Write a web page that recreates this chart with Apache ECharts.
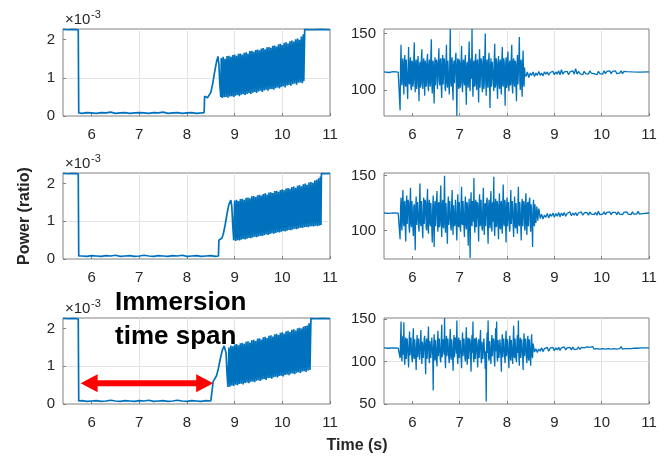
<!DOCTYPE html>
<html>
<head>
<meta charset="utf-8">
<script src="https://cdn.jsdelivr.net/npm/echarts@6/dist/echarts.min.js"></script>
<style>html,body{margin:0;padding:0;background:#fff}#main{width:665px;height:458px}</style>
</head>
<body>
<div id="main"></div>
<script>
// tick labels
const xTicks = [6, 7, 8, 9, 10, 11];
const powerTicks = [0, 1, 2];
const speedTicksTop = [100, 150];
const speedTicksBottom = [50, 100, 150];

// power ratio (x1e-3) vs time, left column
const power1 = [
[5.4,2.27],[5.5,2.26],[5.6,2.27],[5.72,2.26],[5.73,0.08],
[5.8,0.07],[5.9,0.09],[6.0,0.08],[6.1,0.07],[6.2,0.09],[6.3,0.08],[6.4,0.1],[6.5,0.07],[6.6,0.08],[6.7,0.09],[6.8,0.07],[6.9,0.08],[7.0,0.09],[7.1,0.08],[7.2,0.07],[7.3,0.09],[7.4,0.08],[7.5,0.1],[7.6,0.07],[7.7,0.08],[7.8,0.09],[7.9,0.07],[8.0,0.08],[8.1,0.09],[8.2,0.07],[8.3,0.08],[8.36,0.09],
[8.37,0.52],[8.40,0.5],[8.43,0.48],[8.46,0.52],[8.5,0.62],[8.54,0.85],[8.58,1.15],[8.62,1.42],[8.65,1.56],[8.67,1.35],[8.69,0.8],[8.71,0.5],
[8.72,1.52],[8.74,0.47],[8.76,1.55],[8.78,0.49],[8.80,1.50],[8.82,0.50],[8.84,1.57],[8.86,0.48],[8.88,1.58],[8.90,0.51],
[8.92,1.55],[8.94,0.52],[8.96,1.60],[8.98,0.50],[9.00,1.61],[9.02,0.53],[9.04,1.58],[9.06,0.55],[9.08,1.63],[9.10,0.52],
[9.12,1.64],[9.14,0.56],[9.16,1.61],[9.18,0.57],[9.20,1.66],[9.22,0.55],[9.24,1.67],[9.26,0.58],[9.28,1.64],[9.30,0.60],
[9.32,1.70],[9.34,0.58],[9.36,1.71],[9.38,0.61],[9.40,1.68],[9.42,0.63],[9.44,1.73],[9.46,0.60],[9.48,1.74],[9.50,0.64],
[9.52,1.72],[9.54,0.66],[9.56,1.77],[9.58,0.63],[9.60,1.78],[9.62,0.67],[9.64,1.75],[9.66,0.69],[9.68,1.80],[9.70,0.66],
[9.72,1.81],[9.74,0.70],[9.76,1.79],[9.78,0.71],[9.80,1.84],[9.82,0.69],[9.84,1.85],[9.86,0.73],[9.88,1.82],[9.90,0.75],
[9.92,1.88],[9.94,0.72],[9.96,1.89],[9.98,0.76],[10.00,1.86],[10.02,0.78],[10.04,1.92],[10.06,0.75],[10.08,1.93],[10.10,0.80],
[10.12,1.90],[10.14,0.81],[10.16,1.96],[10.18,0.79],[10.20,1.98],[10.22,0.83],[10.24,1.95],[10.26,0.85],[10.28,2.01],[10.30,0.82],
[10.32,2.03],[10.34,0.87],[10.36,2.00],[10.38,0.88],[10.40,2.08],[10.42,0.86],[10.44,2.14],
[10.45,0.92],[10.47,2.27],[10.6,2.26],[10.8,2.27],[11,2.26]
];
const power2 = [
[5.4,2.27],[5.5,2.26],[5.6,2.27],[5.72,2.26],[5.73,0.08],
[5.8,0.08],[5.9,0.07],[6.0,0.09],[6.1,0.08],[6.2,0.07],[6.3,0.09],[6.4,0.08],[6.5,0.1],[6.6,0.07],[6.7,0.08],[6.8,0.09],[6.9,0.07],[7.0,0.08],[7.1,0.1],[7.2,0.08],[7.3,0.07],[7.4,0.09],[7.5,0.08],[7.6,0.07],[7.7,0.09],[7.8,0.08],[7.9,0.1],[8.0,0.07],[8.1,0.08],[8.2,0.09],[8.3,0.07],[8.4,0.08],[8.5,0.09],[8.6,0.07],[8.66,0.08],
[8.67,0.5],[8.70,0.52],[8.73,0.55],[8.76,0.65],[8.80,0.9],[8.84,1.2],[8.88,1.45],[8.92,1.56],[8.94,1.4],[8.96,0.9],[8.98,0.5],
[9.00,1.55],[9.02,0.48],[9.04,1.57],[9.06,0.50],[9.08,1.54],[9.10,0.49],[9.12,1.59],[9.14,0.51],[9.16,1.60],[9.18,0.53],
[9.20,1.57],[9.22,0.52],[9.24,1.62],[9.26,0.54],[9.28,1.63],[9.30,0.56],[9.32,1.61],[9.34,0.55],[9.36,1.66],[9.38,0.57],
[9.40,1.67],[9.42,0.59],[9.44,1.64],[9.46,0.58],[9.48,1.69],[9.50,0.60],[9.52,1.70],[9.54,0.62],[9.56,1.68],[9.58,0.61],
[9.60,1.72],[9.62,0.63],[9.64,1.74],[9.66,0.65],[9.68,1.71],[9.70,0.64],[9.72,1.76],[9.74,0.66],[9.76,1.77],[9.78,0.68],
[9.80,1.75],[9.82,0.67],[9.84,1.80],[9.86,0.69],[9.88,1.81],[9.90,0.71],[9.92,1.78],[9.94,0.70],[9.96,1.83],[9.98,0.72],
[10.00,1.85],[10.02,0.74],[10.04,1.82],[10.06,0.73],[10.08,1.87],[10.10,0.75],[10.12,1.88],[10.14,0.77],[10.16,1.86],[10.18,0.76],
[10.20,1.91],[10.22,0.78],[10.24,1.92],[10.26,0.80],[10.28,1.89],[10.30,0.79],[10.32,1.94],[10.34,0.81],[10.36,1.96],[10.38,0.83],
[10.40,1.93],[10.42,0.82],[10.44,1.98],[10.46,0.84],[10.48,2.00],[10.50,0.85],[10.52,1.97],[10.54,0.84],[10.56,2.03],[10.58,0.86],
[10.60,2.04],[10.62,0.87],[10.64,2.02],[10.66,0.86],[10.68,2.08],[10.70,0.88],[10.72,2.10],[10.74,0.87],[10.76,2.14],[10.78,0.89],[10.80,2.19],
[10.81,0.9],[10.82,2.27],[10.9,2.26],[11,2.27]
];
const power3 = [
[5.4,2.27],[5.5,2.26],[5.6,2.27],[5.72,2.26],[5.73,0.08],
[5.8,0.09],[5.9,0.07],[6.0,0.08],[6.1,0.09],[6.2,0.07],[6.3,0.08],[6.4,0.1],[6.5,0.08],[6.6,0.07],[6.7,0.09],[6.8,0.08],[6.9,0.07],[7.0,0.09],[7.1,0.08],[7.2,0.1],[7.3,0.07],[7.4,0.08],[7.5,0.09],[7.6,0.07],[7.7,0.08],[7.8,0.1],[7.9,0.08],[8.0,0.07],[8.1,0.09],[8.2,0.08],[8.3,0.07],[8.4,0.09],[8.5,0.08],[8.54,0.08],
[8.55,0.6],[8.58,0.65],[8.62,0.75],[8.66,0.95],[8.70,1.2],[8.74,1.42],[8.78,1.54],[8.80,1.55],[8.82,1.35],[8.84,0.8],[8.86,0.45],
[8.88,1.50],[8.90,0.46],[8.92,1.55],[8.94,0.49],[8.96,1.53],[8.98,0.48],[9.00,1.58],[9.02,0.51],[9.04,1.59],[9.06,0.50],
[9.08,1.56],[9.10,0.53],[9.12,1.61],[9.14,0.54],[9.16,1.62],[9.18,0.52],[9.20,1.60],[9.22,0.56],[9.24,1.65],[9.26,0.57],
[9.28,1.66],[9.30,0.55],[9.32,1.63],[9.34,0.59],[9.36,1.69],[9.38,0.60],[9.40,1.70],[9.42,0.58],[9.44,1.67],[9.46,0.62],
[9.48,1.73],[9.50,0.63],[9.52,1.74],[9.54,0.61],[9.56,1.71],[9.58,0.65],[9.60,1.77],[9.62,0.66],[9.64,1.78],[9.66,0.64],
[9.68,1.75],[9.70,0.68],[9.72,1.81],[9.74,0.69],[9.76,1.82],[9.78,0.67],[9.80,1.79],[9.82,0.71],[9.84,1.85],[9.86,0.72],
[9.88,1.86],[9.90,0.70],[9.92,1.83],[9.94,0.74],[9.96,1.89],[9.98,0.75],[10.00,1.90],[10.02,0.73],[10.04,1.87],[10.06,0.77],
[10.08,1.93],[10.10,0.78],[10.12,1.94],[10.14,0.76],[10.16,1.91],[10.18,0.80],[10.20,1.97],[10.22,0.81],[10.24,1.98],[10.26,0.79],
[10.28,1.95],[10.30,0.83],[10.32,2.01],[10.34,0.84],[10.36,2.02],[10.38,0.82],[10.40,2.00],[10.42,0.86],[10.44,2.05],[10.46,0.87],
[10.48,2.07],[10.50,0.85],[10.52,2.08],[10.54,0.89],[10.56,2.14],[10.58,0.90],
[10.60,2.27],[10.7,2.26],[10.85,2.27],[11,2.26]
];

// right column signal vs time
const signal1 = [
[5.4,116],[5.5,115.5],[5.6,116.2],[5.7,115.8],[5.72,116],
[5.74,82],[5.75,121],[5.76,140],[5.77,108],[5.78,104],[5.79,125],[5.80,128],[5.81,110],[5.82,96],[5.83,122],[5.84,131],[5.85,106],[5.86,103],[5.87,127],[5.88,126],[5.89,104],
[5.90,92],[5.91,119],[5.92,138],[5.93,107],[5.94,105],[5.95,124],[5.96,129],[5.97,102],[5.98,100],[5.99,126],[6.00,124],[6.01,103],[6.02,107],[6.03,128],[6.04,142],[6.05,109],
[6.06,98],[6.07,123],[6.08,127],[6.09,101],[6.10,104],[6.11,125],[6.12,130],[6.13,108],[6.14,90],[6.15,120],[6.16,125],[6.17,102],[6.18,106],[6.19,128],[6.20,136],[6.21,105],
[6.22,101],[6.23,124],[6.24,128],[6.25,109],[6.26,95],[6.27,126],[6.28,123],[6.29,103],[6.30,108],[6.31,127],[6.32,132],[6.33,104],[6.34,99],[6.35,122],[6.36,127],[6.37,106],
[6.38,103],[6.39,129],[6.40,145],[6.41,107],[6.42,97],[6.43,124],[6.44,126],[6.45,102],[6.46,88],[6.47,121],[6.48,129],[6.49,104],[6.50,105],[6.51,127],[6.52,124],[6.53,101],
[6.54,100],[6.55,125],[6.56,137],[6.57,108],[6.58,104],[6.59,126],[6.60,128],[6.61,103],[6.62,93],[6.63,122],[6.64,131],[6.65,105],[6.66,106],[6.67,128],[6.68,125],[6.69,102],
[6.70,99],[6.71,124],[6.72,140],[6.73,107],[6.74,102],[6.75,126],[6.76,127],[6.77,104],[6.78,96],[6.79,123],[6.80,154],[6.81,108],[6.82,103],[6.83,125],[6.84,129],[6.85,101],
[6.86,91],[6.87,122],[6.88,126],[6.89,106],[6.90,105],[6.91,128],[6.92,133],[6.93,103],[6.94,77],[6.95,121],[6.96,128],[6.97,105],[6.98,101],[6.99,127],[7.00,124],[7.01,102],
[7.02,107],[7.03,126],[7.04,139],[7.05,104],[7.06,98],[7.07,123],[7.08,127],[7.09,108],[7.10,104],[7.11,125],[7.12,131],[7.13,103],[7.14,87],[7.15,120],[7.16,125],[7.17,106],
[7.18,102],[7.19,128],[7.20,143],[7.21,105],[7.22,99],[7.23,124],[7.24,128],[7.25,110],[7.26,154],[7.27,107],[7.28,94],[7.29,122],[7.30,126],[7.31,103],[7.32,105],[7.33,127],
[7.34,132],[7.35,104],[7.36,100],[7.37,125],[7.38,127],[7.39,106],[7.40,89],[7.41,121],[7.42,136],[7.43,102],[7.44,103],[7.45,128],[7.46,125],[7.47,105],[7.48,98],[7.49,124],
[7.50,130],[7.51,101],[7.52,106],[7.53,127],[7.54,150],[7.55,108],[7.56,95],[7.57,123],[7.58,127],[7.59,104],[7.60,102],[7.61,126],[7.62,133],[7.63,107],[7.64,84],[7.65,120],
[7.66,128],[7.67,103],[7.68,104],[7.69,125],[7.70,124],[7.71,106],[7.72,99],[7.73,127],[7.74,141],[7.75,102],[7.76,105],[7.77,128],[7.78,126],[7.79,104],[7.80,92],[7.81,122],
[7.82,130],[7.83,107],[7.84,101],[7.85,124],[7.86,127],[7.87,103],[7.88,96],[7.89,126],[7.90,138],[7.91,105],[7.92,103],[7.93,128],[7.94,125],[7.95,108],[7.96,86],[7.97,121],
[7.98,129],[7.99,102],[8.00,104],[8.01,127],[8.02,134],[8.03,106],[8.04,99],[8.05,123],[8.06,126],[8.07,104],[8.08,106],[8.09,128],[8.10,140],[8.11,103],[8.12,97],[8.13,125],
[8.14,128],[8.15,107],[8.16,103],[8.17,126],[8.18,124],[8.19,102],[8.20,90],[8.21,122],[8.22,131],[8.23,105],[8.24,105],[8.25,127],[8.26,147],[8.27,108],[8.28,100],[8.29,124],
[8.30,127],[8.31,104],[8.32,94],[8.33,123],[8.34,135],[8.35,106],[8.36,103],[8.37,120],[8.38,114],
[8.40,112],[8.43,116],[8.46,111],[8.49,115],[8.52,113],[8.55,116],[8.58,112],[8.61,115],[8.64,113],[8.67,116.5],[8.70,113],[8.73,115],[8.76,112.5],[8.79,116],[8.82,114],[8.85,116],
[8.88,113],[8.91,115.5],[8.94,114],[8.97,116.5],[9.00,113.5],[9.03,116],[9.06,114],[9.09,117],[9.12,113.5],[9.15,118],[9.18,114],[9.21,116],[9.24,114.5],[9.27,116.5],[9.30,113.5],[9.33,116],
[9.36,114.5],[9.39,117],[9.42,114],[9.45,119],[9.48,114],[9.51,116.5],[9.54,114.5],[9.57,116],[9.60,113.5],[9.63,116.5],[9.66,114.5],[9.69,116],[9.72,114],[9.75,117],[9.78,115],[9.81,116.5],
[9.84,114.5],[9.87,116],[9.90,113.5],[9.93,116.5],[9.96,114.5],[9.99,116],[10.02,114],[10.05,117],[10.08,114.5],[10.11,116.5],[10.14,115],[10.17,117],[10.20,114.5],[10.23,116.5],[10.26,115],[10.29,117],
[10.32,114.5],[10.35,116],[10.38,115],[10.41,117],[10.44,114.5],[10.47,116.5],[10.50,115],[10.53,116.3],[10.56,115.6],[10.65,116],[10.8,115.8],[11.00,116]
];
const signal2 = [
[5.4,116],[5.5,115.6],[5.6,116.1],[5.7,115.8],[5.72,116],
[5.74,92],[5.75,120],[5.76,130],[5.77,105],[5.78,100],[5.79,126],[5.80,137],[5.81,108],[5.82,104],[5.83,125],[5.84,127],[5.85,102],[5.86,90],[5.87,121],[5.88,132],[5.89,106],
[5.90,106],[5.91,128],[5.92,125],[5.93,103],[5.94,98],[5.95,124],[5.96,139],[5.97,107],[5.98,103],[5.99,127],[6.00,128],[6.01,104],[6.02,95],[6.03,122],[6.04,124],[6.05,101],
[6.06,82],[6.07,120],[6.08,131],[6.09,105],[6.10,105],[6.11,126],[6.12,126],[6.13,103],[6.14,99],[6.15,125],[6.16,143],[6.17,108],[6.18,104],[6.19,127],[6.20,127],[6.21,102],
[6.22,93],[6.23,123],[6.24,130],[6.25,106],[6.26,106],[6.27,128],[6.28,125],[6.29,104],[6.30,100],[6.31,126],[6.32,138],[6.33,103],[6.34,97],[6.35,124],[6.36,128],[6.37,107],
[6.38,104],[6.39,125],[6.40,124],[6.41,102],[6.42,89],[6.43,121],[6.44,132],[6.45,105],[6.46,85],[6.47,122],[6.48,127],[6.49,104],[6.50,103],[6.51,128],[6.52,136],[6.53,106],
[6.54,99],[6.55,124],[6.56,126],[6.57,103],[6.58,105],[6.59,127],[6.60,141],[6.61,108],[6.62,94],[6.63,122],[6.64,128],[6.65,104],[6.66,102],[6.67,126],[6.68,150],[6.69,106],
[6.70,98],[6.71,125],[6.72,125],[6.73,102],[6.74,88],[6.75,121],[6.76,131],[6.77,105],[6.78,104],[6.79,127],[6.80,127],[6.81,103],[6.82,100],[6.83,124],[6.84,137],[6.85,107],
[6.86,96],[6.87,123],[6.88,124],[6.89,104],[6.90,106],[6.91,128],[6.92,129],[6.93,102],[6.94,91],[6.95,122],[6.96,133],[6.97,105],[6.98,103],[6.99,126],[7.00,126],[7.01,104],
[7.02,99],[7.03,125],[7.04,140],[7.05,107],[7.06,105],[7.07,127],[7.08,127],[7.09,103],[7.10,94],[7.11,123],[7.12,131],[7.13,106],[7.14,101],[7.15,126],[7.16,124],[7.17,104],
[7.18,86],[7.19,120],[7.20,129],[7.21,105],[7.22,75],[7.23,121],[7.24,135],[7.25,106],[7.26,104],[7.27,127],[7.28,126],[7.29,108],[7.30,148],[7.31,105],[7.32,98],[7.33,124],
[7.34,128],[7.35,103],[7.36,103],[7.37,126],[7.38,124],[7.39,105],[7.40,90],[7.41,122],[7.42,133],[7.43,104],[7.44,106],[7.45,128],[7.46,127],[7.47,102],[7.48,100],[7.49,125],
[7.50,139],[7.51,107],[7.52,96],[7.53,123],[7.54,125],[7.55,104],[7.56,104],[7.57,127],[7.58,130],[7.59,103],[7.60,88],[7.61,121],[7.62,128],[7.63,106],[7.64,102],[7.65,126],
[7.66,136],[7.67,105],[7.68,99],[7.69,124],[7.70,126],[7.71,108],[7.72,149],[7.73,104],[7.74,95],[7.75,122],[7.76,129],[7.77,103],[7.78,105],[7.79,127],[7.80,124],[7.81,106],
[7.82,92],[7.83,123],[7.84,134],[7.85,104],[7.86,101],[7.87,125],[7.88,127],[7.89,103],[7.90,97],[7.91,124],[7.92,142],[7.93,107],[7.94,104],[7.95,128],[7.96,126],[7.97,105],
[7.98,89],[7.99,121],[8.00,130],[8.01,104],[8.02,103],[8.03,126],[8.04,125],[8.05,102],[8.06,99],[8.07,124],[8.08,137],[8.09,106],[8.10,106],[8.11,127],[8.12,128],[8.13,104],
[8.14,94],[8.15,122],[8.16,131],[8.17,105],[8.18,102],[8.19,125],[8.20,126],[8.21,103],[8.22,97],[8.23,124],[8.24,140],[8.25,107],[8.26,104],[8.27,126],[8.28,127],[8.29,105],
[8.30,91],[8.31,122],[8.32,129],[8.33,104],[8.34,105],[8.35,127],[8.36,124],[8.37,102],[8.38,100],[8.39,125],[8.40,134],[8.41,106],[8.42,96],[8.43,123],[8.44,126],[8.45,104],
[8.46,103],[8.47,127],[8.48,130],[8.49,105],[8.50,99],[8.51,124],[8.52,125],[8.53,104],[8.54,85],[8.55,120],[8.56,128],[8.57,106],[8.58,104],[8.59,124],[8.60,123],[8.61,107],
[8.62,106],[8.63,122],[8.64,121],[8.65,109],[8.66,108],[8.67,120],[8.68,118],
[8.70,111],[8.73,115],[8.76,110.5],[8.79,114],[8.82,112],[8.85,115.5],[8.88,111.5],[8.91,115],[8.94,113],[8.97,116],[9.00,112],[9.03,115.5],[9.06,113],[9.09,116.5],[9.12,112.5],[9.15,116],
[9.18,113.5],[9.21,116.5],[9.24,113],[9.27,115.5],[9.30,114],[9.33,117],[9.36,113.5],[9.39,116],[9.42,114],[9.45,116.5],[9.48,113.5],[9.51,116],[9.54,114.5],[9.57,117],[9.60,114],[9.63,116],
[9.66,114.5],[9.69,116.5],[9.72,114],[9.75,117],[9.78,115],[9.81,116],[9.84,114.5],[9.87,116.5],[9.90,114],[9.93,117.5],[9.96,114.5],[9.99,116],[10.02,115],[10.05,117],[10.08,114.5],[10.11,116.5],
[10.14,115],[10.17,117],[10.20,114.5],[10.23,116.5],[10.26,115],[10.29,116.5],[10.32,114.5],[10.35,117],[10.38,115],[10.41,116.5],[10.44,114.5],[10.47,116.5],[10.50,115],[10.53,117],[10.56,115],[10.59,116.5],
[10.62,114.5],[10.65,117],[10.68,115],[10.71,116.5],[10.74,115],[10.77,117.5],[10.80,115],[10.83,116.5],[10.86,115.5],[10.90,116],[11.00,116]
];
const signal3 = [
[5.4,116],[5.5,115.5],[5.6,116],[5.7,115.7],[5.72,116],
[5.74,104],[5.75,125],[5.76,147],[5.77,106],[5.78,100],[5.79,124],[5.80,130],[5.81,108],[5.82,146],[5.83,104],[5.84,96],[5.85,123],[5.86,128],[5.87,103],[5.88,104],[5.89,127],
[5.90,126],[5.91,105],[5.92,93],[5.93,122],[5.94,135],[5.95,107],[5.96,105],[5.97,128],[5.98,127],[5.99,103],[6.00,99],[6.01,124],[6.02,139],[6.03,106],[6.04,103],[6.05,126],
[6.06,124],[6.07,104],[6.08,90],[6.09,121],[6.10,131],[6.11,105],[6.12,106],[6.13,127],[6.14,128],[6.15,102],[6.16,100],[6.17,125],[6.18,137],[6.19,107],[6.20,97],[6.21,123],
[6.22,125],[6.23,104],[6.24,104],[6.25,127],[6.26,130],[6.27,106],[6.28,85],[6.29,120],[6.30,127],[6.31,103],[6.32,102],[6.33,126],[6.34,141],[6.35,105],[6.36,98],[6.37,124],
[6.38,126],[6.39,104],[6.40,105],[6.41,128],[6.42,129],[6.43,107],[6.44,66],[6.45,118],[6.46,132],[6.47,104],[6.48,101],[6.49,125],[6.50,125],[6.51,103],[6.52,94],[6.53,122],
[6.54,136],[6.55,106],[6.56,104],[6.57,127],[6.58,127],[6.59,102],[6.60,99],[6.61,124],[6.62,143],[6.63,105],[6.64,103],[6.65,126],[6.66,126],[6.67,108],[6.68,151],[6.69,104],
[6.70,92],[6.71,121],[6.72,130],[6.73,106],[6.74,105],[6.75,127],[6.76,125],[6.77,103],[6.78,98],[6.79,124],[6.80,138],[6.81,107],[6.82,102],[6.83,126],[6.84,127],[6.85,104],
[6.86,89],[6.87,121],[6.88,131],[6.89,105],[6.90,104],[6.91,128],[6.92,124],[6.93,109],[6.94,148],[6.95,106],[6.96,97],[6.97,123],[6.98,128],[6.99,104],[7.00,103],[7.01,125],
[7.02,126],[7.03,102],[7.04,92],[7.05,122],[7.06,134],[7.07,106],[7.08,106],[7.09,127],[7.10,125],[7.11,104],[7.12,100],[7.13,126],[7.14,140],[7.15,105],[7.16,96],[7.17,124],
[7.18,128],[7.19,103],[7.20,104],[7.21,127],[7.22,124],[7.23,106],[7.24,88],[7.25,120],[7.26,131],[7.27,110],[7.28,147],[7.29,104],[7.30,99],[7.31,124],[7.32,127],[7.33,103],
[7.34,105],[7.35,128],[7.36,130],[7.37,106],[7.38,93],[7.39,122],[7.40,126],[7.41,104],[7.42,102],[7.43,125],[7.44,137],[7.45,105],[7.46,98],[7.47,123],[7.48,125],[7.49,103],
[7.50,104],[7.51,127],[7.52,129],[7.53,105],[7.54,91],[7.55,112],[7.56,53],[7.57,118],[7.58,134],[7.59,110],[7.60,148],[7.61,105],[7.62,101],[7.63,124],[7.64,126],[7.65,104],
[7.66,97],[7.67,123],[7.68,131],[7.69,106],[7.70,105],[7.71,127],[7.72,124],[7.73,103],[7.74,94],[7.75,122],[7.76,139],[7.77,112],[7.78,147],[7.79,105],[7.80,100],[7.81,125],
[7.82,127],[7.83,104],[7.84,104],[7.85,126],[7.86,125],[7.87,106],[7.88,88],[7.89,121],[7.90,132],[7.91,105],[7.92,103],[7.93,127],[7.94,128],[7.95,104],[7.96,98],[7.97,124],
[7.98,136],[7.99,106],[8.00,105],[8.01,126],[8.02,126],[8.03,103],[8.04,92],[8.05,122],[8.06,130],[8.07,105],[8.08,101],[8.09,125],[8.10,124],[8.11,106],[8.12,97],[8.13,123],
[8.14,142],[8.15,107],[8.16,104],[8.17,127],[8.18,127],[8.19,103],[8.20,99],[8.21,124],[8.22,131],[8.23,110],[8.24,148],[8.25,106],[8.26,95],[8.27,122],[8.28,128],[8.29,104],
[8.30,103],[8.31,126],[8.32,125],[8.33,105],[8.34,90],[8.35,121],[8.36,133],[8.37,106],[8.38,104],[8.39,127],[8.40,127],[8.41,103],[8.42,98],[8.43,124],[8.44,130],[8.45,105],
[8.46,101],[8.47,126],[8.48,126],[8.49,104],[8.50,95],[8.51,123],[8.52,132],[8.53,107],[8.54,104],[8.55,121],[8.56,118],
[8.58,111],[8.61,115],[8.64,110.5],[8.67,114.5],[8.70,112],[8.73,116],[8.76,111.5],[8.79,115],[8.82,113],[8.85,116.5],[8.88,112],[8.91,115.5],[8.94,113.5],[8.97,116.5],[9.00,112.5],[9.03,116],
[9.06,113.5],[9.09,116.5],[9.12,113],[9.15,116],[9.18,114],[9.21,117],[9.24,113.5],[9.27,116],[9.30,114.5],[9.33,116.5],[9.36,113.5],[9.39,117],[9.42,114],[9.45,116],[9.48,114.5],[9.51,117],
[9.54,114],[9.57,116.5],[9.60,114.5],[9.63,116],[9.66,114],[9.69,117],[9.72,115],[9.75,116.5],[9.78,114.5],[9.81,117.5],[9.84,114.5],[9.87,116],[9.90,115],[9.93,117],[9.96,114.5],[9.99,116.5],
[10.02,115],[10.05,117],[10.08,114.5],[10.11,116],[10.14,115],[10.17,117],[10.20,114.5],[10.23,116.5],[10.26,115],[10.29,117],[10.32,114.5],[10.35,116.5],[10.38,115],[10.41,117.5],[10.44,114.5],[10.47,116.5],
[10.50,115],[10.53,117],[10.56,115],[10.59,116.5],[10.62,115],[10.65,117],[10.68,115.5],[10.71,116.5],[10.75,115.5],[10.85,116],[11.00,116]
];

// immersion span drawn as a red double arrow on the bottom-left panel
const immersionSpan = [5.77, 8.55];
const arrowLevel = 0.55;

const myChart = echarts.init(document.getElementById('main'));

const blue = '#0072BD';
const ink = '#262626';
const font = 'Liberation Sans';

const panels = [
    { left: 63, top: 29, width: 267, height: 87, data: power1, ymin: 0, ymax: 2.28, yticks: powerTicks, lw: 1.7 },
    { left: 384, top: 29, width: 265, height: 87, data: signal1, ymin: 77, ymax: 154, yticks: speedTicksTop, lw: 1.3 },
    { left: 63, top: 173, width: 267, height: 86, data: power2, ymin: 0, ymax: 2.28, yticks: powerTicks, lw: 1.7 },
    { left: 384, top: 173, width: 265, height: 86, data: signal2, ymin: 74, ymax: 152.5, yticks: speedTicksTop, lw: 1.3 },
    { left: 63, top: 318, width: 267, height: 86, data: power3, ymin: 0, ymax: 2.28, yticks: powerTicks, lw: 1.7 },
    { left: 384, top: 318, width: 265, height: 86, data: signal3, ymin: 50, ymax: 151, yticks: speedTicksBottom, lw: 1.3 }
];

const option = {
    animation: false,
    textStyle: { fontFamily: font },
    grid: panels.map(p => ({
        left: p.left, top: p.top, width: p.width, height: p.height,
        containLabel: false, outerBoundsMode: 'none',
        show: true, borderColor: '#808080', borderWidth: 1, backgroundColor: '#fff'
    })),
    xAxis: panels.map((p, i) => ({
        type: 'value', gridIndex: i, min: 5.4, max: 11,
        axisLine: { show: false },
        axisTick: { customValues: xTicks, inside: true, length: 3, lineStyle: { color: '#808080' } },
        axisLabel: { customValues: xTicks, color: ink, fontSize: 15, margin: 11 },
        splitLine: { show: true, showMinLine: false, showMaxLine: false, lineStyle: { color: '#e3e3e3' } }
    })),
    yAxis: panels.map((p, i) => ({
        type: 'value', gridIndex: i, min: p.ymin, max: p.ymax,
        axisLine: { show: false },
        axisTick: { customValues: p.yticks, inside: true, length: 3, lineStyle: { color: '#808080' } },
        axisLabel: { customValues: p.yticks, color: ink, fontSize: 15, margin: 8 },
        splitLine: { show: true, showMinLine: false, showMaxLine: false, lineStyle: { color: '#e3e3e3' } }
    })),
    series: panels.map((p, i) => ({
        type: 'line', xAxisIndex: i, yAxisIndex: i,
        data: p.data, showSymbol: false, symbol: 'none',
        lineStyle: { color: blue, width: p.lw, join: 'bevel' },
        itemStyle: { color: blue },
        silent: true
    }))
};

myChart.setOption(option);

// annotations
const graphics = [];
[0, 2, 4].forEach(i => {
    const top = panels[i].top;
    graphics.push({ type: 'text', x: 65, y: top - 9, style: { text: '×10', fill: ink, font: '15px ' + font, textAlign: 'left', textVerticalAlign: 'middle' } });
    graphics.push({ type: 'text', x: 91, y: top - 14, style: { text: '-3', fill: ink, font: '11px ' + font, textAlign: 'left', textVerticalAlign: 'middle' } });
});
graphics.push({ type: 'text', x: 25, y: 216, rotation: Math.PI / 2, style: { text: 'Power (ratio)', fill: ink, font: 'bold 16px ' + font, textAlign: 'center', textVerticalAlign: 'middle' } });
graphics.push({ type: 'text', x: 357, y: 446, style: { text: 'Time (s)', fill: ink, font: 'bold 16px ' + font, textAlign: 'center', textVerticalAlign: 'middle' } });
graphics.push({ type: 'text', x: 115, y: 303, style: { text: 'Immersion', fill: '#000', font: 'bold 26px ' + font, textAlign: 'left', textVerticalAlign: 'middle' } });
graphics.push({ type: 'text', x: 115, y: 337, style: { text: 'time span', fill: '#000', font: 'bold 26px ' + font, textAlign: 'left', textVerticalAlign: 'middle' } });

const a = myChart.convertToPixel({ gridIndex: 4 }, [immersionSpan[0], arrowLevel]);
const b = myChart.convertToPixel({ gridIndex: 4 }, [immersionSpan[1], arrowLevel]);
const headLen = 17, headHalf = 9, shaft = 3;
graphics.push({ type: 'rect', shape: { x: a[0] + headLen - 2, y: a[1] - shaft, width: b[0] - a[0] - 2 * headLen + 4, height: 2 * shaft }, style: { fill: '#ff0000' }, z: 10 });
graphics.push({ type: 'polygon', shape: { points: [[a[0], a[1]], [a[0] + headLen, a[1] - headHalf], [a[0] + headLen, a[1] + headHalf]] }, style: { fill: '#ff0000' }, z: 10 });
graphics.push({ type: 'polygon', shape: { points: [[b[0], b[1]], [b[0] - headLen, b[1] - headHalf], [b[0] - headLen, b[1] + headHalf]] }, style: { fill: '#ff0000' }, z: 10 });

myChart.setOption({ graphic: graphics });
</script>
</body>
</html>
